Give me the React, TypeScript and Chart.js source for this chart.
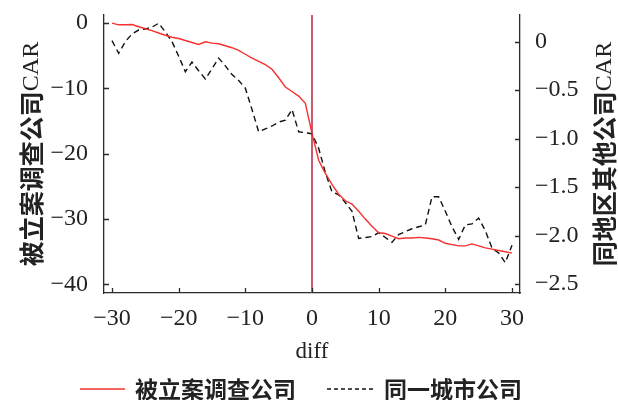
import React, { useEffect, useRef } from 'react';
import { Chart, registerables } from 'chart.js';

Chart.register(...registerables);

// ---------- data ----------
const diff = [
  -30, -29, -28, -27, -26, -25, -24, -23, -22, -21, -20, -19, -18, -17, -16, -15,
  -14, -13, -12, -11, -10, -9, -8, -7, -6, -5, -4, -3, -2, -1, 0,
  1, 2, 3, 4, 5, 6, 7, 8, 9, 10, 11, 12, 13, 14, 15,
  16, 17, 18, 19, 20, 21, 22, 23, 24, 25, 26, 27, 28, 29, 30,
];

// 被立案调查公司 CAR (left axis)
const investigatedCAR = [
  -0.05, -0.3, -0.3, -0.25, -0.6, -0.9, -1.2, -1.55, -1.9, -2.2, -2.4, -2.7, -3.0, -3.3, -2.9, -3.1,
  -3.2, -3.5, -3.8, -4.2, -4.8, -5.4, -5.9, -6.4, -7.1, -8.4, -9.8, -10.5, -11.2, -12.3, -16.9,
  -21.0, -23.0, -24.7, -26.2, -27.2, -27.7, -28.8, -30.0, -31.1, -32.1, -32.2, -32.6, -33.0, -32.9, -32.9,
  -32.8, -32.9, -33.0, -33.2, -33.7, -33.9, -34.1, -34.1, -33.8, -34.1, -34.4, -34.6, -34.8, -35.0, -35.2,
];

// 同一城市公司 CAR (right axis)
const sameCityCAR = [
  0.01, -0.12, 0.0, 0.08, 0.12, 0.13, 0.15, 0.19, 0.1, 0.0, -0.15, -0.31, -0.21, -0.3, -0.385, -0.28,
  -0.17, -0.25, -0.34, -0.4, -0.48, -0.7, -0.93, -0.9, -0.87, -0.83, -0.81, -0.7, -0.93, -0.94, -0.95,
  -1.1, -1.35, -1.55, -1.58, -1.66, -1.75, -2.03, -2.02, -2.01, -1.97, -2.02, -2.07, -1.99, -1.96, -1.93,
  -1.91, -1.89, -1.6, -1.6, -1.75, -1.91, -2.04, -1.89, -1.88, -1.82, -1.95, -2.13, -2.18, -2.28, -2.1,
];

const xTicks = [-30, -20, -10, 0, 10, 20, 30];
const leftTicks = [0, -10, -20, -30, -40];
const rightTicks = [0, -0.5, -1.0, -1.5, -2.0, -2.5];

const seriesNames = ['被立案调查公司', '同一城市公司'];
const xTitle = 'diff';
const leftTitle = ['被立案调查公司', 'CAR'];
const rightTitle = ['同地区其他公司', 'CAR'];

// ---------- styles ----------
const SERIF = "'Liberation Serif', 'Times New Roman', serif";
const CJK = "'Noto Sans CJK SC', 'Noto Sans', sans-serif";
const AXIS = '#2b2b2b';
const TEXT = '#222222';
const RED = '#f53030';
const VLINE = '#c84860';

const fmt = (v: number, dec: number) => {
  if (v === 0) return '0';
  const s = Math.abs(v).toFixed(dec);
  return (v < 0 ? '\u2212' : '') + s;
};

function drawRotatedTitle(ctx: CanvasRenderingContext2D, parts: string[], x: number, y: number) {
  ctx.save();
  ctx.translate(x, y);
  ctx.rotate(-Math.PI / 2);
  ctx.textBaseline = 'middle';
  ctx.textAlign = 'left';
  ctx.fillStyle = TEXT;
  const fonts = [`bold 25px ${CJK}`, `24px ${SERIF}`];
  const widths = parts.map((p, i) => {
    ctx.font = fonts[i];
    return ctx.measureText(p).width;
  });
  const total = widths.reduce((a, b) => a + b, 0);
  let cx = -total / 2;
  parts.forEach((p, i) => {
    ctx.font = fonts[i];
    ctx.fillText(p, cx, i === 1 ? 1 : 0);
    cx += widths[i];
  });
  ctx.restore();
}

const decorPlugin = {
  id: 'decor',
  beforeDatasetsDraw(chart: any) {
    const { ctx, chartArea, scales } = chart;
    const x0 = scales.x.getPixelForValue(0);
    ctx.save();
    ctx.strokeStyle = VLINE;
    ctx.lineWidth = 1.8;
    ctx.beginPath();
    ctx.moveTo(x0, chartArea.top);
    ctx.lineTo(x0, chartArea.bottom);
    ctx.stroke();
    ctx.restore();
  },
  afterDraw(chart: any) {
    const { ctx, chartArea, scales } = chart;
    const { left, right, top, bottom } = chartArea;
    const tl = 5;
    ctx.save();
    ctx.strokeStyle = AXIS;
    ctx.lineWidth = 1.3;
    ctx.beginPath();
    xTicks.forEach((v) => {
      const px = Math.round(scales.x.getPixelForValue(v)) + 0.5;
      ctx.moveTo(px, bottom);
      ctx.lineTo(px, bottom - tl);
    });
    leftTicks.forEach((v) => {
      const py = Math.round(scales.y.getPixelForValue(v)) + 0.5;
      ctx.moveTo(left, py);
      ctx.lineTo(left + tl, py);
    });
    rightTicks.forEach((v) => {
      const py = Math.round(scales.y1.getPixelForValue(v)) + 0.5;
      ctx.moveTo(right, py);
      ctx.lineTo(right - tl, py);
    });
    ctx.stroke();
    ctx.restore();

    const midY = (top + bottom) / 2;
    drawRotatedTitle(ctx, leftTitle, 31, midY);
    drawRotatedTitle(ctx, rightTitle, right + 84, midY);

    // legend
    const ly = 389;
    ctx.save();
    ctx.font = `bold 23px ${CJK}`;
    ctx.textBaseline = 'middle';
    ctx.textAlign = 'left';
    ctx.fillStyle = TEXT;
    let lx = 80;
    ctx.strokeStyle = RED;
    ctx.lineWidth = 1.4;
    ctx.beginPath();
    ctx.moveTo(lx, ly);
    ctx.lineTo(lx + 45, ly);
    ctx.stroke();
    lx += 55;
    ctx.fillText(seriesNames[0], lx, ly);
    lx += ctx.measureText(seriesNames[0]).width + 31;
    ctx.strokeStyle = '#111';
    ctx.setLineDash([4, 3]);
    ctx.beginPath();
    ctx.moveTo(lx, ly);
    ctx.lineTo(lx + 47, ly);
    ctx.stroke();
    ctx.setLineDash([]);
    lx += 57;
    ctx.fillText(seriesNames[1], lx, ly);
    ctx.restore();
  },
};

const zeroPad = (s: any) => {
  s.paddingTop = 0;
  s.paddingBottom = 0;
  s.paddingLeft = 0;
  s.paddingRight = 0;
};

export default function App() {
  const ref = useRef<HTMLCanvasElement | null>(null);

  useEffect(() => {
    if (!ref.current) return;
    const chart = new Chart(ref.current, {
      type: 'line',
      data: {
        datasets: [
          {
            label: seriesNames[0],
            data: diff.map((d, i) => ({ x: d, y: investigatedCAR[i] })),
            borderColor: RED,
            borderWidth: 1.4,
            pointRadius: 0,
            tension: 0,
            yAxisID: 'y',
          },
          {
            label: seriesNames[1],
            data: diff.map((d, i) => ({ x: d, y: sameCityCAR[i] })),
            borderColor: '#111111',
            borderWidth: 1.4,
            borderDash: [6, 4],
            pointRadius: 0,
            tension: 0,
            yAxisID: 'y1',
          },
        ],
      },
      options: {
        responsive: false,
        animation: false,
        layout: { padding: { top: 15, left: 0, right: 0, bottom: 0 } },
        plugins: { legend: { display: false }, tooltip: { enabled: false } },
        scales: {
          x: {
            type: 'linear',
            min: -31.2,
            max: 31.2,
            afterBuildTicks: (s: any) => { s.ticks = xTicks.map((v) => ({ value: v })); },
            afterFit: (s: any) => { s.height = 107; zeroPad(s); },
            grid: { display: false, drawTicks: false },
            border: { display: true, color: AXIS, width: 1.3 },
            ticks: {
              padding: 11,
              color: TEXT,
              font: { family: SERIF, size: 24 },
              maxRotation: 0,
              callback: (v: any) => fmt(Number(v), 0),
            },
            title: {
              display: true,
              text: xTitle,
              color: TEXT,
              font: { family: SERIF, size: 23 },
              padding: { top: 0, bottom: 34 },
            },
          },
          y: {
            type: 'linear',
            position: 'left',
            min: -41.3,
            max: 1.2,
            afterBuildTicks: (s: any) => { s.ticks = leftTicks.map((v) => ({ value: v })); },
            afterFit: (s: any) => { s.width = 104; zeroPad(s); },
            grid: { display: false, drawTicks: false },
            border: { display: true, color: AXIS, width: 1.3 },
            ticks: {
              padding: 16,
              color: TEXT,
              font: { family: SERIF, size: 24 },
              callback: (v: any) => fmt(Number(v), 0),
            },
          },
          y1: {
            type: 'linear',
            position: 'right',
            min: -2.593,
            max: 0.275,
            afterBuildTicks: (s: any) => { s.ticks = rightTicks.map((v) => ({ value: v })); },
            afterFit: (s: any) => { s.width = 98; zeroPad(s); },
            grid: { display: false, drawTicks: false },
            border: { display: true, color: AXIS, width: 1.3 },
            ticks: {
              padding: 15,
              color: TEXT,
              font: { family: SERIF, size: 24 },
              callback: (v: any) => fmt(Number(v), 1),
            },
          },
        },
      },
      plugins: [decorPlugin],
    });
    return () => chart.destroy();
  }, []);

  return (
    <div style={{ position: 'fixed', left: 0, top: 0, width: 618, height: 400, background: '#fff' }}>
      <canvas ref={ref} width={618} height={400} style={{ display: 'block' }} />
    </div>
  );
}
